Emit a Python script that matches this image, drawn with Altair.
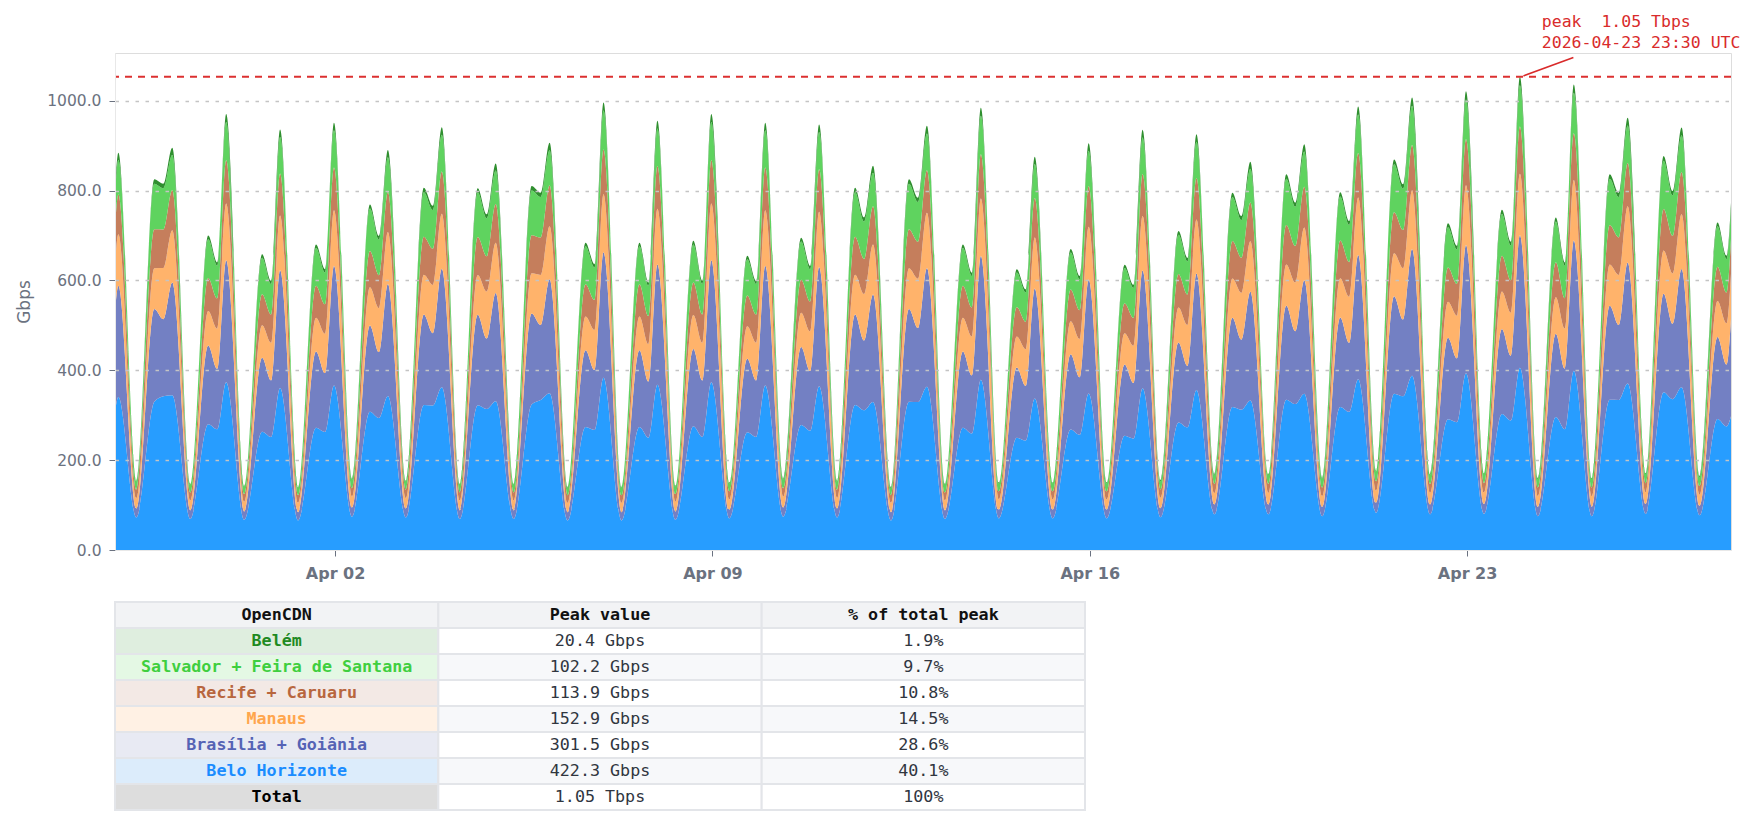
import altair as alt
import pandas as pd

# ---------------- data ----------------
SERIES = ["Belo Horizonte", "Brasília + Goiânia", "Manaus", "Recife + Caruaru",
          "Salvador + Feira de Santana", "Belém"]
COLORS = ["#279dff", "#7380c3", "#ffb36b", "#c57e5c", "#5fd35f", "#2f8f2f"]

# days Mar 29 .. Apr 27 (UTC): trough ~07:30, midday hump ~15:30, evening dip ~19:30
DAYS = [f"2026-03-{d:02d}" for d in (29, 30, 31)] + [f"2026-04-{d:02d}" for d in range(1, 28)]
TROUGH = [154, 147, 143, 140, 158, 154, 147, 147, 140, 140, 143, 150, 158, 154, 140,
          147, 150, 150, 150, 155, 169, 169, 160, 176, 169, 171, 160, 160, 171, 164]
HUMP = [825, 700, 658, 680, 769, 806, 805, 810, 684, 684, 688, 655, 695, 806, 825,
        680, 625, 670, 635, 710, 795, 836, 796, 869, 727, 757, 740, 836, 877, 729]
DIP = [815, 640, 599, 625, 699, 766, 747, 795, 636, 595, 599, 599, 632, 740, 784,
       617, 580, 610, 590, 650, 743, 773, 732, 814, 677, 686, 640, 795, 799, 655]
# evening peaks at 23:30 UTC, Mar 28 .. Apr 26
PEAK_DAYS = ["2026-03-28"] + DAYS[:-1]
PEAK = [884, 895, 970, 936, 951, 890, 941, 860, 906, 996, 955, 970, 951, 947, 855,
        944, 984, 875, 905, 935, 925, 864, 903, 987, 1007, 1021, 1053, 1036, 962, 940]
START_T, START_V = "2026-03-28T22:00:00Z", 800
END_T, END_V = "2026-04-27T21:30:00Z", 773

# share of each series (order of SERIES) at each phase of the day
SHARES = {
    "trough": [0.47, 0.13, 0.15, 0.12, 0.118, 0.012],
    "hump":   [0.40, 0.25, 0.11, 0.105, 0.123, 0.012],
    "dip":    [0.42, 0.21, 0.14, 0.105, 0.113, 0.012],
    "peak":   [0.385, 0.28, 0.13, 0.10, 0.087, 0.018],
}

PEAK_VALUE = 1053
PEAK_LINES = ["peak\u00a0 1.05 Tbps", "2026-04-23 23:30 UTC"]

TABLE_HEAD = ["OpenCDN", "Peak value", "% of total peak"]
TABLE_NAMES = ["Belém", "Salvador + Feira de Santana", "Recife + Caruaru", "Manaus",
               "Brasília + Goiânia", "Belo Horizonte", "Total"]
TABLE_PEAK = ["20.4 Gbps", "102.2 Gbps", "113.9 Gbps", "152.9 Gbps", "301.5 Gbps",
              "422.3 Gbps", "1.05 Tbps"]
TABLE_PCT = ["1.9%", "9.7%", "10.8%", "14.5%", "28.6%", "40.1%", "100%"]
NAME_BG = ["#dfeedf", "#e4f8e4", "#f3e9e5", "#fff1e4", "#e8eaf3", "#dcecfb", "#dddddd"]
NAME_FG = ["#1f8a1f", "#3fcf3f", "#b8663e", "#ffa64d", "#5563b5", "#1a8cff", "#000000"]

# ---------------- build long table ----------------
points = [(START_T, START_V, "peak"), (PEAK_DAYS[0] + "T23:30:00Z", PEAK[0], "peak")]
for i, d in enumerate(DAYS):
    points.append((d + "T07:30:00Z", TROUGH[i], "trough"))
    points.append((d + "T15:30:00Z", HUMP[i], "hump"))
    points.append((d + "T19:30:00Z", DIP[i], "dip"))
    if i + 1 < len(PEAK):
        points.append((d + "T23:30:00Z", PEAK[i + 1], "peak"))
points.append((END_T, END_V, "peak"))

rows = []
for t, tot, kind in points:
    for k, s in enumerate(SERIES):
        rows.append({"t": t, "s": s, "o": k, "v": tot * SHARES[kind][k]})
df = pd.DataFrame(rows)

GREY = "#6b7280"
x_dom = [alt.DateTime(year=2026, month=3, date=28, hours=22, utc=True),
         alt.DateTime(year=2026, month=4, date=27, hours=21, minutes=30, utc=True)]
x_scale = alt.Scale(type="utc", domain=x_dom)
y_scale = alt.Scale(domain=[0, 1106], nice=False)

area = alt.Chart(df).mark_area(interpolate="monotone").encode(
    x=alt.X("t:T", scale=x_scale,
            axis=alt.Axis(values=[alt.DateTime(year=2026, month=4, date=d, utc=True) for d in (2, 9, 16, 23)],
                          format="%b %d", title=None, grid=False,
                          labelFont="DejaVu Sans", labelFontSize=16, labelFontWeight="bold",
                          labelColor=GREY, tickColor=GREY, tickSize=6, labelPadding=9,
                          domainColor="#e8e8e8")),
    y=alt.Y("v:Q", stack="zero", scale=y_scale,
            axis=alt.Axis(values=[0, 200, 400, 600, 800, 1000], format=".1f", title="Gbps",
                          labelFont="DejaVu Sans", labelFontSize=15.5, labelColor=GREY,
                          titleFont="DejaVu Sans", titleFontSize=17, titleFontWeight="normal",
                          titleColor=GREY, titlePadding=13, tickColor=GREY, tickSize=6,
                          labelPadding=8, domainColor="#e8e8e8",
                          gridColor="#c4c4c4", gridDash=[3.5, 6.5], gridWidth=1.5,
                          gridOpacity=alt.condition("datum.value === 0", alt.value(0), alt.value(1)),
                          zindex=1)),
    color=alt.Color("s:N", scale=alt.Scale(domain=SERIES, range=COLORS), legend=None),
    order=alt.Order("o:Q", sort="ascending"),
)

peak_rule = alt.Chart(pd.DataFrame({"y": [PEAK_VALUE]})).mark_rule(
    color="#dc3030", strokeDash=[7, 6], strokeWidth=2).encode(y=alt.Y("y:Q", scale=y_scale))

ann_df = pd.DataFrame({
    "t": ["2026-04-24T09:15:00Z", "2026-04-24T09:15:00Z"],
    "y": [1174, 1128],
    "txt": PEAK_LINES,
})
ann_text = alt.Chart(ann_df).mark_text(
    align="left", baseline="middle", font="DejaVu Sans Mono", fontSize=16.5, color="#d92b2b"
).encode(x=alt.X("t:T", scale=x_scale), y=alt.Y("y:Q", scale=y_scale), text="txt:N")

arrow_df = pd.DataFrame({"t1": ["2026-04-24T01:05:00Z"], "t2": ["2026-04-24T23:20:00Z"],
                         "y1": [1055], "y2": [1096]})
arrow = alt.Chart(arrow_df).mark_rule(color="#d92b2b", strokeWidth=1.6).encode(
    x=alt.X("t1:T", scale=x_scale), x2="t2:T",
    y=alt.Y("y1:Q", scale=y_scale), y2="y2:Q")

main = alt.layer(area, peak_rule, arrow, ann_text).properties(width=1616, height=497)

# ---------------- table ----------------
cells = []
for c, h in enumerate(TABLE_HEAD):
    cells.append({"r": 0, "c": c, "txt": h, "bg": "#f2f3f5", "fg": "#111111", "b": 1})
for i, name in enumerate(TABLE_NAMES):
    r = i + 1
    vbg = "#ffffff" if i % 2 == 0 else "#f7f8fa"
    cells.append({"r": r, "c": 0, "txt": name, "bg": NAME_BG[i], "fg": NAME_FG[i], "b": 1})
    cells.append({"r": r, "c": 1, "txt": TABLE_PEAK[i], "bg": vbg, "fg": "#30363f", "b": 0})
    cells.append({"r": r, "c": 2, "txt": TABLE_PCT[i], "bg": vbg, "fg": "#30363f", "b": 0})
tdf = pd.DataFrame(cells)

tx = alt.X("c:O", axis=None, scale=alt.Scale(paddingInner=0, paddingOuter=0))
ty = alt.Y("r:O", axis=None, scale=alt.Scale(paddingInner=0, paddingOuter=0))
tbase = alt.Chart(tdf).encode(x=tx, y=ty)
rects = tbase.mark_rect(stroke="#e3e5e9", strokeWidth=2).encode(fill=alt.Fill("bg:N", scale=None))
bold_txt = tbase.transform_filter("datum.b == 1").mark_text(
    font="DejaVu Sans Mono", fontSize=16.7, fontWeight="bold").encode(
    text="txt:N", color=alt.Color("fg:N", scale=None))
norm_txt = tbase.transform_filter("datum.b == 0").mark_text(
    font="DejaVu Sans Mono", fontSize=16.7).encode(
    text="txt:N", color=alt.Color("fg:N", scale=None))
table = alt.layer(rects, bold_txt, norm_txt).properties(width=970, height=208)

chart = alt.vconcat(main, table, spacing=18).properties(
    padding={"left": 7, "top": 5, "right": 5, "bottom": 5}
).configure_view(stroke=None).configure(font="DejaVu Sans", background="white")

chart.save("out.html", embed_options={"renderer": "svg", "actions": False})
